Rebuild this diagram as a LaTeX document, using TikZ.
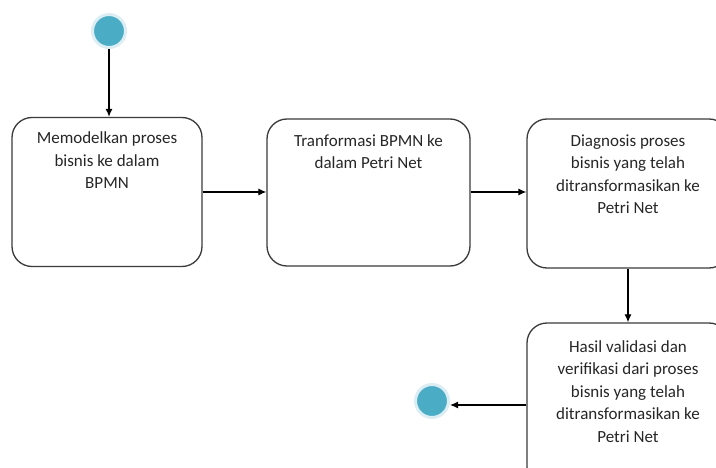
\documentclass[tikz,border=0pt]{standalone}
\usepackage{fontspec}
\setmainfont{Carlito}
\usetikzlibrary{arrows.meta}
\definecolor{dotblue}{HTML}{4BACC6}
\definecolor{dotrim}{HTML}{DCEEF4}
\definecolor{boxline}{HTML}{3A3A3A}
\tikzset{
    actbox/.style={draw=boxline, line width=1.3pt, rounded corners=20pt, inner sep=0pt},
    acttext/.style={anchor=north, align=center, inner sep=0pt, text=black!85,
        font=\fontsize{17}{22.5}\selectfont},
    termdot/.style={circle, fill=dotblue, draw=dotrim, line width=3pt,
        minimum size=33pt, inner sep=0pt},
    flow/.style={-{Latex[length=8pt,width=7pt]}, line width=1.2pt},
}
\begin{document}
\begin{tikzpicture}[x=1pt, y=-1pt]
            % the frame
            \useasboundingbox (0,0) rectangle (716,468);
            \path[clip] (0,0) rectangle (716,468);
            % start and end
            \node[termdot] (start) at (109,31) {};
            \node[termdot] (stop) at (432,401) {};
            % the boxes
            \node[actbox, minimum width=190pt, minimum height=149pt] (model) at (107,192) {};
            \node[actbox, minimum width=203pt, minimum height=147pt] (trans) at (368.5,192.5) {};
            \node[actbox, minimum width=202pt, minimum height=149pt] (diag) at (628,193.5) {};
            \node[actbox, minimum width=202pt, minimum height=164pt] (hasil) at (628,405) {};

            % labels
            \node[acttext] (tmodel) at ([yshift=-15pt]model.north)
                {Memodelkan proses\\bisnis ke dalam\\BPMN};
            \node[acttext] (ttrans) at ([yshift=-16pt]trans.north)
                {Tranformasi BPMN ke\\dalam Petri Net};
            \node[acttext] (tdiag) at ([yshift=-16pt]diag.north)
                {Diagnosis proses\\bisnis yang telah\\ditransformasikan ke\\Petri Net};
            \node[acttext] (thasil) at ([yshift=-18pt]hasil.north)
                {Hasil validasi dan\\verifikasi dari proses\\bisnis yang telah\\ditransformasikan ke\\Petri Net};

            % the flow
            \draw[flow] (start.south) -- (start.south |- model.north);
            \draw[flow] (model.east) -- (model.east -| trans.west);
            \draw[flow] (model.east -| trans.east) -- (model.east -| diag.west);
            \draw[flow] (diag.south) -- (hasil.north);
            \draw[flow] (hasil.west) -- (hasil.west -| stop.east);
\end{tikzpicture}
\end{document}
